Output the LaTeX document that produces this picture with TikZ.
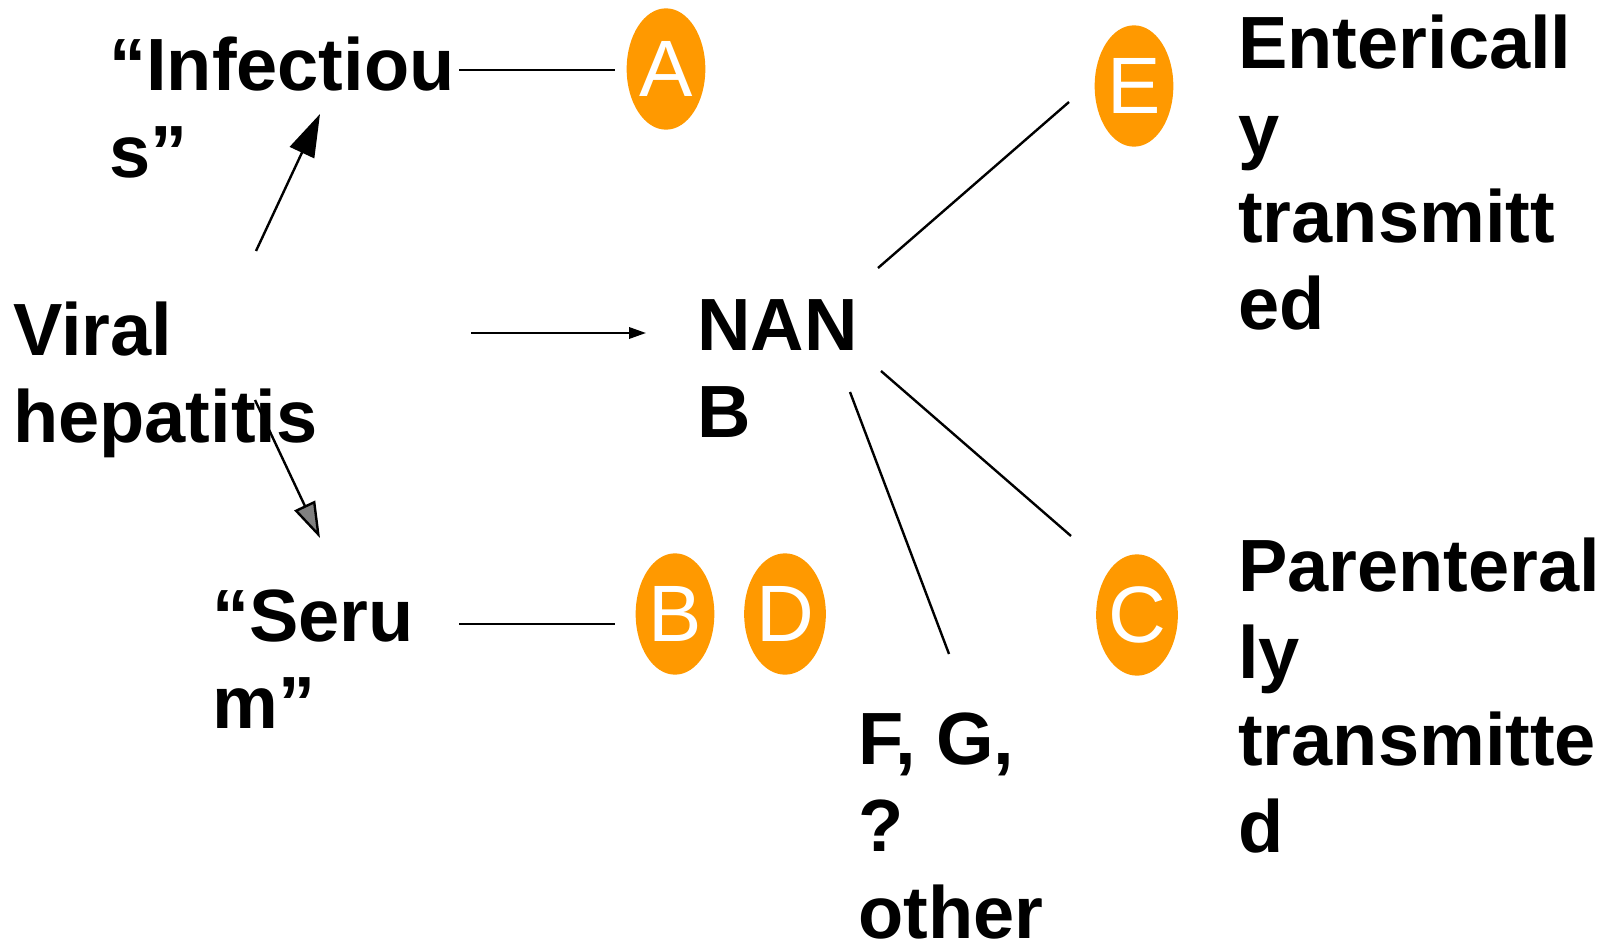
\documentclass[tikz,border=0pt]{standalone}
\usepackage{fontspec}
\setmainfont{Liberation Sans}
\usetikzlibrary{arrows.meta,shapes.geometric}
\definecolor{hepor}{RGB}{255,153,0}
\begin{document}
\begin{tikzpicture}[x=0.75pt,y=-0.75pt,
  lbl/.style={font=\bfseries\fontsize{55.5}{65.25}\selectfont, align=left, inner sep=0pt, anchor=base west},
  oval/.style={ellipse, fill=hepor, inner sep=0pt, minimum width=59pt, minimum height=91pt,
    text=white, font=\fontsize{60}{60}\selectfont},
  conn/.style={line width=1.8pt},
  bigarrow/.style={conn, -{Triangle[length=32pt,width=20pt]}},
  grayarrow/.style={conn, -{Triangle[length=27pt,width=17pt,fill=gray,color=black]}},
  smallarrow/.style={conn, -{Triangle[length=12.75pt,width=8.5pt]}}
]
\useasboundingbox (0,0) rectangle (1616,944);
% text blocks (anchored at the baseline of their last line)
\node[lbl] (inf) at (109,178) {“Infectiou\\s”};
\node[lbl] (viral) at (13,442) {Viral\\hepatitis};
\node[lbl] (nanb) at (697,437) {NAN\\B};
\node[lbl] (serum) at (212,728) {“Seru\\m”};
\node[lbl] (fg) at (858,938) {F, G,\\?\\other};
\node[lbl] (ent) at (1238,330) {Entericall\\y\\transmitt\\ed};
\node[lbl] (par) at (1238,852) {Parenteral\\ly\\transmitte\\d};
% ovals
\node[oval] (A) at (666,69) {A};
\node[oval] (E) at (1134,86) {E};
\node[oval] (B) at (675,614) {B};
\node[oval] (D) at (785,614) {D};
\node[oval] (C) at (1137,615) {C};
% connector end points
\coordinate (infR) at (459,70);
\coordinate (aL) at (615,70);
\coordinate (serR) at (459,624);
\coordinate (bL) at (615,624);
\coordinate (vR) at (471,333);
\coordinate (nL) at (646,333);
\coordinate (vUp) at (256,251);
\coordinate (infB) at (320,114);
\coordinate (vDn) at (255,400);
\coordinate (serT) at (320,538);
\coordinate (nE1) at (878,268);
\coordinate (eL) at (1069,102);
\coordinate (nC1) at (881,371);
\coordinate (cL) at (1071,536);
\coordinate (nF1) at (850,392);
\coordinate (fT) at (949,654);
% connectors
\draw[conn] (infR) -- (aL);
\draw[conn] (serR) -- (bL);
\draw[smallarrow] (vR) -- (nL);
\draw[bigarrow] (vUp) -- (infB);
\draw[grayarrow] (vDn) -- (serT);
\draw[conn] (nE1) -- (eL);
\draw[conn] (nC1) -- (cL);
\draw[conn] (nF1) -- (fT);
\end{tikzpicture}
\end{document}
